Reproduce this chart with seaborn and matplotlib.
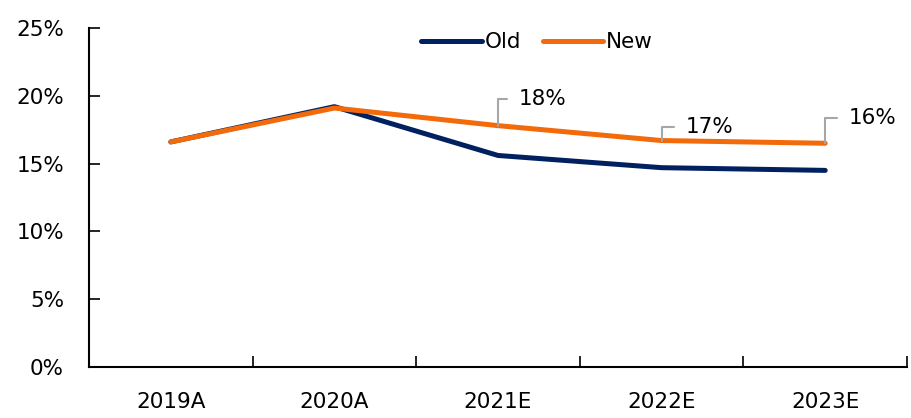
import pandas as pd
import numpy as np
import matplotlib
matplotlib.use("Agg")
import matplotlib.pyplot as plt
import seaborn as sns
from matplotlib.ticker import FuncFormatter, FixedLocator

# ==========================================================
# DATA
# ==========================================================

years = ["2019A", "2020A", "2021E", "2022E", "2023E"]

old_margin = [16.6, 19.2, 15.6, 14.7, 14.5]
new_margin = [16.6, 19.1, 17.8, 16.7, 16.5]

label_years = ["2021E", "2022E", "2023E"]
label_text = ["18%", "17%", "16%"]
label_offsets = [(15, 19), (17, 10), (17, 18)]

df = pd.DataFrame({
    "Year": years * 2,
    "Margin": old_margin + new_margin,
    "Series": ["Old"] * len(years) + ["New"] * len(years),
})

# ==========================================================
# PLOT
# ==========================================================

sns.set_style("white")
plt.rcParams["font.family"] = ["DejaVu Sans"]
plt.rcParams["text.color"] = "black"
plt.rcParams["xtick.labelcolor"] = "black"
plt.rcParams["ytick.labelcolor"] = "black"

fs = 15.5

fig = plt.figure(figsize=(9.12, 4.18), dpi=100)
ax = fig.add_axes([0.0976, 0.122, 0.8969, 0.811])

sns.lineplot(
    data=df,
    x="Year",
    y="Margin",
    hue="Series",
    palette={"Old": "#002060", "New": "#F26A0A"},
    linewidth=3.6,
    sort=False,
    solid_capstyle="round",
    ax=ax,
)

ax.set_xlim(-0.5, len(years) - 0.5)
ax.set_ylim(0, 25)
ax.set_yticks(np.arange(0, 26, 5))
ax.yaxis.set_major_formatter(FuncFormatter(lambda v, p: f"{v:.0f}%"))

# ticks at category boundaries, labels at centres
ax.xaxis.set_major_locator(FixedLocator(np.arange(-0.5, len(years), 1.0)))
ax.xaxis.set_minor_locator(FixedLocator(np.arange(len(years))))
ax.set_xticklabels([], minor=False)
ax.set_xticklabels(years, minor=True)

ax.tick_params(axis="x", which="major", direction="in", length=8, width=1.2,
               color="black", bottom=True)
ax.tick_params(axis="x", which="minor", length=0, pad=18, labelsize=fs, bottom=True)
ax.tick_params(axis="y", direction="in", length=8, width=1.2, color="black",
               pad=18, labelsize=fs, left=True)

for side in ["top", "right"]:
    ax.spines[side].set_visible(False)
for side in ["left", "bottom"]:
    ax.spines[side].set_color("black")
    ax.spines[side].set_linewidth(1.5)

ax.set_xlabel("")
ax.set_ylabel("")

# ==========================================================
# DATA LABELS
# ==========================================================

for yr, txt, off in zip(label_years, label_text, label_offsets):
    i = years.index(yr)
    ax.annotate(
        txt,
        xy=(i, new_margin[i]),
        xytext=off,
        textcoords="offset points",
        ha="left",
        va="center",
        fontsize=fs,
        arrowprops=dict(
            arrowstyle="-",
            color="#A6A6A6",
            lw=1.5,
            connectionstyle="angle,angleA=0,angleB=90,rad=0",
            relpos=(0, 0.5),
            shrinkA=6,
            shrinkB=0,
        ),
    )

# ==========================================================
# LEGEND
# ==========================================================

leg = ax.legend(
    loc="upper center",
    bbox_to_anchor=(0.548, 1.045),
    ncol=2,
    frameon=False,
    fontsize=fs,
    handlelength=2.8,
    handletextpad=0.15,
    columnspacing=1.0,
)
for line in leg.get_lines():
    line.set_solid_capstyle("round")

fig.savefig("out.png", dpi=100)
